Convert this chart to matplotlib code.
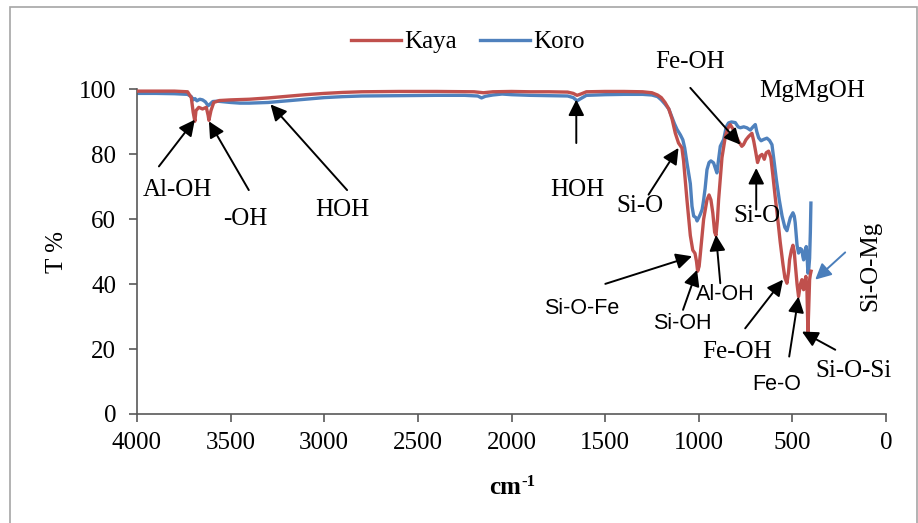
import matplotlib.pyplot as plt
from matplotlib.patches import Rectangle

plt.rcParams['font.family'] = 'Liberation Serif'

# Kaya spectrum (wavenumber cm-1, transmittance %)
kaya_wn = [4000, 3900, 3800, 3730, 3710, 3700, 3691, 3685, 3670, 3650, 3630, 3620, 3616, 3605,
           3590, 3560, 3500, 3400, 3300, 3200, 3100, 3000, 2900, 2800, 2600, 2400, 2200, 2150,
           2100, 2000, 1900, 1800, 1700, 1670, 1650, 1630, 1600, 1500, 1400, 1300, 1250, 1220,
           1200, 1180, 1160, 1143, 1125, 1108, 1090, 1081, 1063, 1045, 1032, 1020, 1012, 1006,
           998, 992, 974, 956, 945, 935, 925, 915, 908, 900, 894, 876, 858, 845, 832, 814, 800,
           787, 770, 761, 748, 734, 716, 706, 698, 686, 674, 662, 650, 640, 627, 615, 605, 592,
           578, 565, 550, 540, 529, 520, 515, 505, 497, 490, 485, 475, 467, 457, 449, 444, 440,
           434, 428, 422, 417, 413, 408, 404, 400]
kaya_t = [99.5, 99.5, 99.5, 99.3, 97.5, 93.0, 90.2, 93.5, 94.5, 94.0, 94.5, 92.0, 90.5, 93.5,
          96.0, 96.6, 96.8, 97.0, 97.4, 97.9, 98.4, 98.8, 99.1, 99.3, 99.4, 99.4, 99.3, 99.0,
          99.3, 99.4, 99.3, 99.3, 99.2, 98.8, 98.2, 98.6, 99.3, 99.4, 99.4, 99.3, 99.0, 98.3,
          97.5, 96.0, 94.0, 91.0, 86.5, 83.5, 82.0, 78.0, 66.0, 55.0, 50.5, 49.5, 47.0, 44.0,
          45.5, 49.0, 60.0, 66.0, 67.5, 66.0, 62.0, 56.0, 55.0, 60.0, 66.0, 79.0, 85.5, 88.0,
          89.2, 87.5, 85.5, 84.0, 82.5, 83.0, 84.5, 85.5, 86.5, 84.0, 81.5, 77.5, 79.5, 80.0,
          78.5, 80.5, 81.0, 79.0, 74.0, 67.0, 60.0, 53.0, 46.0, 42.0, 40.3, 44.0, 47.5, 50.5,
          52.0, 50.0, 46.5, 40.0, 36.2, 40.0, 41.4, 39.0, 38.3, 40.5, 42.4, 38.0, 25.0, 32.0,
          41.4, 43.0, 44.0]

# Koro spectrum
koro_wn = [4000, 3900, 3800, 3730, 3710, 3700, 3690, 3680, 3665, 3650, 3635, 3620, 3610, 3595,
           3570, 3500, 3450, 3400, 3300, 3200, 3100, 3000, 2900, 2800, 2600, 2400, 2250, 2180,
           2160, 2140, 2100, 2050, 2000, 1900, 1800, 1700, 1670, 1650, 1630, 1600, 1500, 1400,
           1300, 1250, 1220, 1200, 1180, 1160, 1152, 1130, 1116, 1098, 1085, 1075, 1063, 1045,
           1036, 1027, 1015, 1009, 1000, 992, 982, 975, 966, 956, 945, 935, 921, 910, 903, 895,
           885, 867, 853, 841, 825, 805, 790, 778, 760, 743, 725, 710, 698, 690, 680, 667, 654,
           636, 622, 609, 598, 585, 570, 555, 540, 529, 520, 511, 497, 490, 485, 475, 467, 458,
           449, 444, 440, 433, 426, 420, 417, 412, 408, 404, 401]
koro_t = [98.8, 98.8, 98.7, 98.5, 97.8, 96.8, 97.2, 96.5, 97.0, 96.8, 96.2, 95.0, 95.5, 96.3,
          96.4, 96.0, 95.8, 95.8, 96.0, 96.5, 97.0, 97.5, 97.8, 98.0, 98.1, 98.2, 98.2, 98.0,
          97.4, 97.9, 98.3, 98.6, 98.4, 98.2, 98.1, 98.0, 97.5, 96.5, 97.2, 98.2, 98.4, 98.5,
          98.5, 98.3, 97.8, 96.8, 95.5, 94.0, 92.8, 89.5, 87.7, 86.0, 84.5, 82.0, 77.4, 71.0,
          64.0, 61.0, 60.5, 59.5, 60.5, 61.5, 63.0, 65.5, 69.5, 75.3, 77.5, 78.0, 77.4, 75.5,
          74.3, 78.0, 82.5, 84.6, 88.5, 89.7, 90.0, 89.8, 88.5, 88.2, 88.5, 88.2, 87.5, 88.5,
          89.2, 87.0, 85.1, 84.2, 84.6, 85.0, 84.3, 83.0, 78.0, 72.0, 66.0, 61.0, 57.5, 56.5,
          58.5, 60.5, 62.0, 61.0, 59.0, 52.0, 49.6, 51.0, 50.6, 48.5, 47.5, 49.5, 51.6, 47.0,
          43.4, 45.0, 48.0, 56.0, 65.0]

# band labels: text, text pos, arrow tail, arrow tip, font
bands = [
    ('Al-OH', (3783, 69), (3883, 76.3), (3691, 90.7), 'serif'),
    ('-OH', (3420, 60), (3403, 69), (3616, 90.2), 'serif'),
    ('HOH', (2902, 63), (2878, 69), (3287, 95.4), 'serif'),
    ('HOH', (1648, 69), (1654, 83.5), (1654, 96.9), 'serif'),
    ('Si-O', (1316, 64), (1268, 67.6), (1108, 82), 'serif'),
    ('Fe-OH', (1048, 108.6), (1045, 100.5), (778, 83), 'serif'),
    ('MgMgOH', (394, 99.4), None, None, 'serif'),
    ('Si-O', (689, 60.9), (693, 63), (693, 75.8), 'serif'),
    ('Si-O-Fe', (1623, 32.6), (1499, 40.1), (1036, 48.6), 'sans'),
    ('Si-OH', (1090, 28), (1084, 32.1), (1009, 44.4), 'sans'),
    ('Al-OH', (858, 36.7), (885, 40.3), (908, 55.2), 'sans'),
    ('Fe-OH', (796, 19.2), (752, 26.4), (550, 41.4), 'serif'),
    ('Fe-O', (582, 9), (517, 17.7), (467, 36.2), 'sans'),
    ('Si-O-Si', (173, 13.1), (271, 19.8), (449, 25.4), 'serif'),
]

red = '#C0504D'
blue = '#4F81BD'

fig = plt.figure(figsize=(9.18, 5.23), dpi=100)
fig.patches.append(Rectangle((10 / 918, -0.05), 907 / 918, 1.05 - 7 / 523, transform=fig.transFigure,
                             fill=False, edgecolor='#A6A6A6', lw=1.2))
ax = fig.add_axes([137 / 918, 1 - 414 / 523, (886 - 137) / 918, (414 - 89.5) / 523])

ax.plot(kaya_wn, kaya_t, color=red, lw=2.4, label='Kaya', zorder=3)
ax.plot(koro_wn, koro_t, color=blue, lw=2.4, label='Koro', zorder=2)

ax.set_xlim(4000, 0)
ax.set_ylim(0, 100)
ax.set_xticks(range(4000, -1, -500))
ax.set_yticks(range(0, 101, 20))
for s in ['top', 'right']:
    ax.spines[s].set_visible(False)
for s in ['left', 'bottom']:
    ax.spines[s].set_color('#595959')
    ax.spines[s].set_linewidth(1.2)
ax.tick_params(direction='out', length=6, width=1.2, color='#595959', labelsize=18)
ax.tick_params(axis='y', pad=9)
ax.tick_params(axis='x', pad=7)

# axis titles
ax.set_ylabel('T %', fontsize=18)
ax.yaxis.set_label_coords((68 - 137) / 749, 0.5)
fig.text(505 / 918, 1 - 488 / 523, 'cm', fontsize=18, fontweight='bold', ha='center', va='center')
fig.text(521 / 918, 1 - 482 / 523, '-1', fontsize=12, fontweight='bold', ha='left', va='center')

for txt, tpos, tail, tip, fam in bands:
    if fam == 'sans':
        ax.text(*tpos, txt, ha='center', va='center', fontsize=15.5, family='Liberation Sans')
    else:
        ax.text(*tpos, txt, ha='center', va='center', fontsize=18)
    if tail is not None:
        ax.annotate('', xy=tip, xytext=tail,
                    arrowprops=dict(arrowstyle='-|>', color='black', lw=1.4,
                                    mutation_scale=24, shrinkA=0, shrinkB=0))

ax.text(84, 45.5, 'Si-O-Mg', rotation=90, ha='center', va='center', fontsize=18, clip_on=False)
ax.annotate('', xy=(378, 41.4), xytext=(218, 49.8),
            arrowprops=dict(arrowstyle='-|>', color='#4A7EBB', lw=1.4,
                            mutation_scale=24, shrinkA=0, shrinkB=0))

fig.legend(loc='center', bbox_to_anchor=(468 / 918, 1 - 42 / 523), ncol=2, frameon=False,
           fontsize=18, handlelength=2.0, handletextpad=0.15, columnspacing=0.9)

fig.savefig('out.png', dpi=100)
